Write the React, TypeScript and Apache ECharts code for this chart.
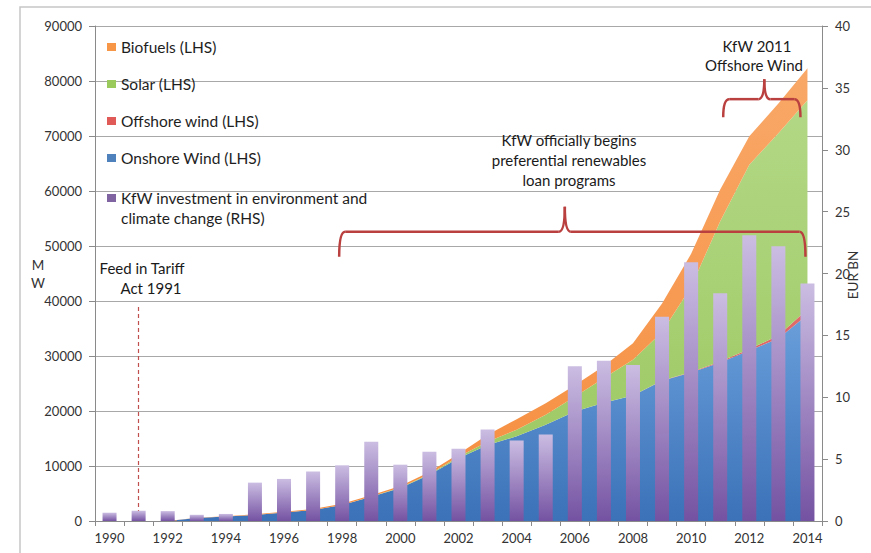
import React, { useEffect, useRef } from "react";
import * as echarts from "echarts";

const years = [
  "1990", "1991", "1992", "1993", "1994", "1995", "1996", "1997", "1998", "1999",
  "2000", "2001", "2002", "2003", "2004", "2005", "2006", "2007", "2008", "2009",
  "2010", "2011", "2012", "2013", "2014",
];

// MW (left axis)
const onshoreWind = [
  0, 0, 0, 550, 800, 1100, 1550, 2000, 2900, 4400,
  6000, 8400, 11400, 13800, 15400, 17500, 19900, 21500, 22800, 25500,
  27000, 28800, 31000, 33200, 37500,
];
const offshoreWind = [
  0, 0, 0, 0, 0, 0, 0, 0, 0, 0,
  0, 0, 0, 0, 0, 0, 0, 0, 0, 60,
  80, 190, 270, 510, 1000,
];
const solar = [
  0, 0, 0, 3, 5, 10, 15, 20, 30, 50,
  80, 150, 300, 600, 1200, 1800, 2700, 4500, 6500, 8800,
  15500, 25500, 33500, 36800, 38000,
];
const biofuels = [
  0, 0, 0, 60, 80, 100, 120, 150, 200, 250,
  300, 350, 500, 1300, 1900, 2100, 2100, 2200, 3000, 5200,
  6000, 5800, 5200, 5400, 5800,
];

// EUR BN (right axis)
const kfwInvestment = [
  0.67, 0.83, 0.8, 0.5, 0.57, 3.1, 3.4, 4.0, 4.5, 6.4,
  4.55, 5.6, 5.83, 7.4, 6.5, 7.0, 12.5, 12.95, 12.6, 16.5,
  20.9, 18.4, 23.1, 22.2, 19.2,
];

const leftTicks = { min: 0, max: 90000, interval: 10000 };
const rightTicks = { min: 0, max: 40, interval: 5 };

const FONT = "Lato, 'Open Sans', sans-serif";
const BRACE = "#b9403f";

const vgrad = (top: string, bottom: string) =>
  new echarts.graphic.LinearGradient(0, 0, 0, 1, [
    { offset: 0, color: top },
    { offset: 1, color: bottom },
  ]);

function braceElems(x1: number, x2: number, xm: number, y: number, d: number, h: number) {
  const r = 6;
  const style = { stroke: BRACE, lineWidth: 2.5, fill: "none" };
  return [
    { type: "bezierCurve", shape: { x1, y1: y + d, cpx1: x1, cpy1: y, x2: x1 + r, y2: y }, style },
    { type: "line", shape: { x1: x1 + r, y1: y, x2: xm - r, y2: y }, style },
    { type: "bezierCurve", shape: { x1: xm - r, y1: y, cpx1: xm, cpy1: y, x2: xm, y2: y - h }, style },
    { type: "bezierCurve", shape: { x1: xm, y1: y - h, cpx1: xm, cpy1: y, x2: xm + r, y2: y }, style },
    { type: "line", shape: { x1: xm + r, y1: y, x2: x2 - r, y2: y }, style },
    { type: "bezierCurve", shape: { x1: x2 - r, y1: y, cpx1: x2, cpy1: y, x2: x2, y2: y + d }, style },
  ].map((e) => ({ ...e, silent: true, z: 50 }));
}

export default function App() {
  const ref = useRef<HTMLDivElement>(null);

  useEffect(() => {
    if (!ref.current) return;
    const chart = echarts.init(ref.current, undefined, { renderer: "svg" });

    const areaSeries = (name: string, data: number[], top: string, bottom: string) => ({
      name,
      type: "line",
      stack: "mw",
      yAxisIndex: 0,
      data,
      symbol: "none",
      showSymbol: false,
      smooth: false,
      lineStyle: { width: 0 },
      areaStyle: { color: vgrad(top, bottom), opacity: 1 },
      itemStyle: { color: bottom },
      z: 2,
    });

    const legendText = { fontFamily: FONT, fontSize: 15.5, color: "#1e1e1e", lineHeight: 16 };

    chart.setOption({
      animation: false,
      backgroundColor: "#ffffff",
      textStyle: { fontFamily: FONT },
      grid: { left: 95, right: 49, top: 26, bottom: 32, containLabel: false },
      legend: [
        {
          data: [
            { name: "Biofuels (LHS)", itemStyle: { color: "#f79646" } },
            { name: "Solar (LHS)", itemStyle: { color: "#9bca5c" } },
            { name: "Offshore wind (LHS)", itemStyle: { color: "#e05a58" } },
            { name: "Onshore Wind (LHS)", itemStyle: { color: "#4f81bd" } },
          ],
          orient: "vertical",
          left: 102,
          top: 34,
          itemWidth: 9,
          itemHeight: 8,
          itemGap: 21,
          icon: "rect",
          selectedMode: false,
          textStyle: legendText,
        },
        {
          data: [{ name: "KfW investment in environment and climate change (RHS)", itemStyle: { color: "#8064a2" } }],
          orient: "vertical",
          left: 102,
          top: 163,
          itemWidth: 9,
          itemHeight: 8,
          icon: "rect",
          selectedMode: false,
          formatter: () => " \nKfW investment in environment and\nclimate change (RHS)",
          textStyle: { ...legendText, lineHeight: 20 },
        },
      ],
      xAxis: {
        type: "category",
        data: years,
        boundaryGap: true,
        axisLine: { lineStyle: { color: "#8a8a8a", width: 1 } },
        axisTick: { show: true, interval: 0, length: 5, inside: false, lineStyle: { color: "#8a8a8a" } },
        axisLabel: { interval: 1, color: "#333", fontSize: 13, fontFamily: FONT, margin: 10 },
        splitLine: { show: false },
      },
      yAxis: [
        {
          type: "value",
          ...leftTicks,
          position: "left",
          axisLine: { show: true, lineStyle: { color: "#8a8a8a" } },
          axisTick: { show: true, length: 6, lineStyle: { color: "#8a8a8a" } },
          axisLabel: {
            color: "#333",
            fontSize: 13,
            fontFamily: FONT,
            margin: 13,
            formatter: (v: number) => String(v),
          },
          splitLine: { show: true, lineStyle: { color: "#a8a8a8", width: 1 } },
        },
        {
          type: "value",
          ...rightTicks,
          position: "right",
          axisLine: { show: true, lineStyle: { color: "#8a8a8a" } },
          axisTick: { show: true, length: 6, lineStyle: { color: "#8a8a8a" } },
          axisLabel: {
            color: "#333",
            fontSize: 13,
            fontFamily: FONT,
            margin: 13,
            formatter: (v: number) => String(v),
          },
          splitLine: { show: false },
        },
      ],
      series: [
        areaSeries("Onshore Wind (LHS)", onshoreWind, "#6a9fdb", "#3b72b8"),
        areaSeries("Offshore wind (LHS)", offshoreWind, "#e06c6a", "#d9534f"),
        areaSeries("Solar (LHS)", solar, "#b3d886", "#9ac75e"),
        areaSeries("Biofuels (LHS)", biofuels, "#f9a868", "#f58d3e"),
        {
          name: "KfW investment in environment and climate change (RHS)",
          type: "bar",
          yAxisIndex: 1,
          data: kfwInvestment,
          barWidth: 14,
          itemStyle: { color: vgrad("#cbbde2", "#7452a2") },
          z: 5,
          markLine: {
            silent: true,
            symbol: "none",
            label: { show: false },
            lineStyle: { color: "#c0504d", type: [4, 3], width: 1.2 },
            data: [[{ coord: ["1991", 0] }, { coord: ["1991", 17.3] }]],
          },
        },
      ],
    });

    const px = (cat: string) => chart.convertToPixel({ xAxisIndex: 0 }, cat) as number;
    const py = (v: number) => chart.convertToPixel({ yAxisIndex: 0 }, v) as number;

    const annText = (text: string, x: number, y: number) => ({
      type: "text",
      x,
      y,
      silent: true,
      z: 60,
      style: {
        text,
        fill: "#1a1a1a",
        font: `15px ${FONT}`,
        align: "center",
        verticalAlign: "middle",
      },
    });

    const axisName = (text: string, x: number, y: number, rotation = 0) => ({
      type: "text",
      silent: true,
      x,
      y,
      rotation,
      style: {
        text,
        fill: "#333",
        font: `13.5px ${FONT}`,
        align: "center",
        verticalAlign: "middle",
      },
    });

    const bigY = py(52600);
    const smallY = py(76700);

    chart.setOption({
      graphic: [
        {
          type: "rect",
          silent: true,
          z: 0,
          shape: { x: 20, y: 7, width: 900, height: 600 },
          style: { fill: "none", stroke: "#c6c6c6", lineWidth: 1.5 },
        },
        axisName("M", 38, 265),
        axisName("W", 38, 282.5),
        axisName("EUR BN", 853, 275, Math.PI / 2),
        annText("Feed in Tariff", 142, 268),
        annText("Act 1991", 151, 288),
        annText("KfW officially begins", 569, 140),
        annText("preferential renewables", 569, 160),
        annText("loan programs", 569, 180),
        annText("KfW 2011", 757, 46),
        annText("Offshore Wind", 754, 65),
        ...braceElems(px("1998") - 3, px("2014") - 2, px("2006") - 10, bigY, 25, 25),
        ...braceElems(px("2011") + 3, px("2014") - 7, px("2012") + 15, smallY, 18, 20),
      ],
    });

    return () => chart.dispose();
  }, []);

  return (
    <div
      ref={ref}
      style={{ position: "fixed", left: 0, top: 0, width: 871, height: 553, background: "#fff" }}
    />
  );
}
